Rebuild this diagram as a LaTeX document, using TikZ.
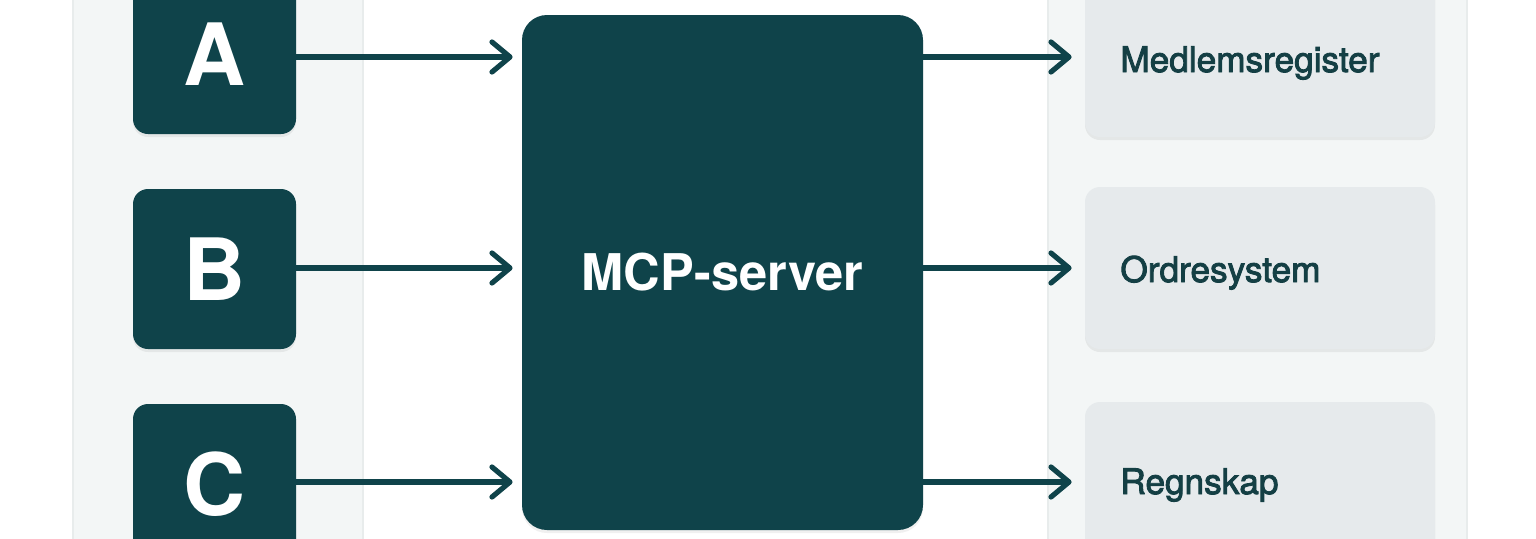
\documentclass[tikz,border=0pt]{standalone}
\usepackage{fontspec}
\setmainfont{TeX Gyre Heros}
\newfontfamily\medfont[FakeBold=2.5]{TeX Gyre Heros}
\usetikzlibrary{arrows.meta,shadows}
\definecolor{mcpteal}{HTML}{0F434A}
\definecolor{panelbg}{HTML}{F3F6F6}
\definecolor{panelline}{HTML}{E8ECEC}
\definecolor{rboxbg}{HTML}{E6EAEC}
\definecolor{labelcol}{HTML}{143F44}
\tikzset{
  softshadow/.style={drop shadow={shadow xshift=0pt,shadow yshift=-1.5pt,opacity=0.06,fill=black}},
  srcbox/.style={fill=mcpteal,rounded corners=7.5pt,minimum width=81.5pt,minimum height=80pt,
    inner sep=0pt,text=white,font=\fontsize{43}{43}\selectfont\bfseries,softshadow},
  serverbox/.style={fill=mcpteal,rounded corners=12.5pt,minimum width=200.5pt,minimum height=257.5pt,
    inner sep=0pt,text=white,font=\fontsize{25.3}{25}\selectfont\bfseries,softshadow},
  sysbox/.style={fill=rboxbg,rounded corners=7.5pt,minimum width=175pt,minimum height=81pt,inner sep=0pt,softshadow},
  syslabel/.style={text=labelcol,inner sep=0pt,font=\medfont\fontsize{17.6}{20}\selectfont},
  panel/.style={fill=panelbg,draw=panelline,line width=1pt},
  arr/.style={draw=mcpteal,line width=2.6pt,-{Straight Barb[length=9pt,width=15pt,line cap=round,line join=round]}}
}
\begin{document}
\begin{tikzpicture}[x=0.5pt,y=-0.5pt]
\useasboundingbox (0,0) rectangle (1536,538);
\clip (0,0) rectangle (1536,538);
\fill[white] (0,0) rectangle (1536,538);
% side panels
\path[panel] (73,-20) rectangle (363,560);
\path[panel] (1048,-20) rectangle (1467,560);
% source boxes
\node[srcbox] (A) at (214.5,54) {A};
\node[srcbox] (B) at (214.5,269) {B};
\node[srcbox] (C) at (214.5,484) {C};
% server
\node[serverbox] (mcp) at (722.5,272.5) {MCP-server};
% systems
\node[sysbox] (r1) at (1260,56) {};
\node[sysbox] (r2) at (1260,268) {};
\node[sysbox] (r3) at (1260,483) {};
\node[syslabel,anchor=base west] (t1) at (1120,72) {Medlemsregister};
\node[syslabel,anchor=base west] (t2) at (1120,282) {Ordresystem};
\node[syslabel,anchor=base west] (t3) at (1120,494) {Regnskap};
% arrow rows
\coordinate (ya) at (0,57);
\coordinate (yb) at (0,268);
\coordinate (yc) at (0,482);
\draw[arr,shorten >=4.5pt] (A.east |- ya) -- (mcp.west |- ya);
\draw[arr,shorten >=4.5pt] (B.east |- yb) -- (mcp.west |- yb);
\draw[arr,shorten >=4.5pt] (C.east |- yc) -- (mcp.west |- yc);
\draw[arr,shorten >=6.5pt] (mcp.east |- ya) -- (r1.west |- ya);
\draw[arr,shorten >=6.5pt] (mcp.east |- yb) -- (r2.west |- yb);
\draw[arr,shorten >=6.5pt] (mcp.east |- yc) -- (r3.west |- yc);
\end{tikzpicture}
\end{document}
